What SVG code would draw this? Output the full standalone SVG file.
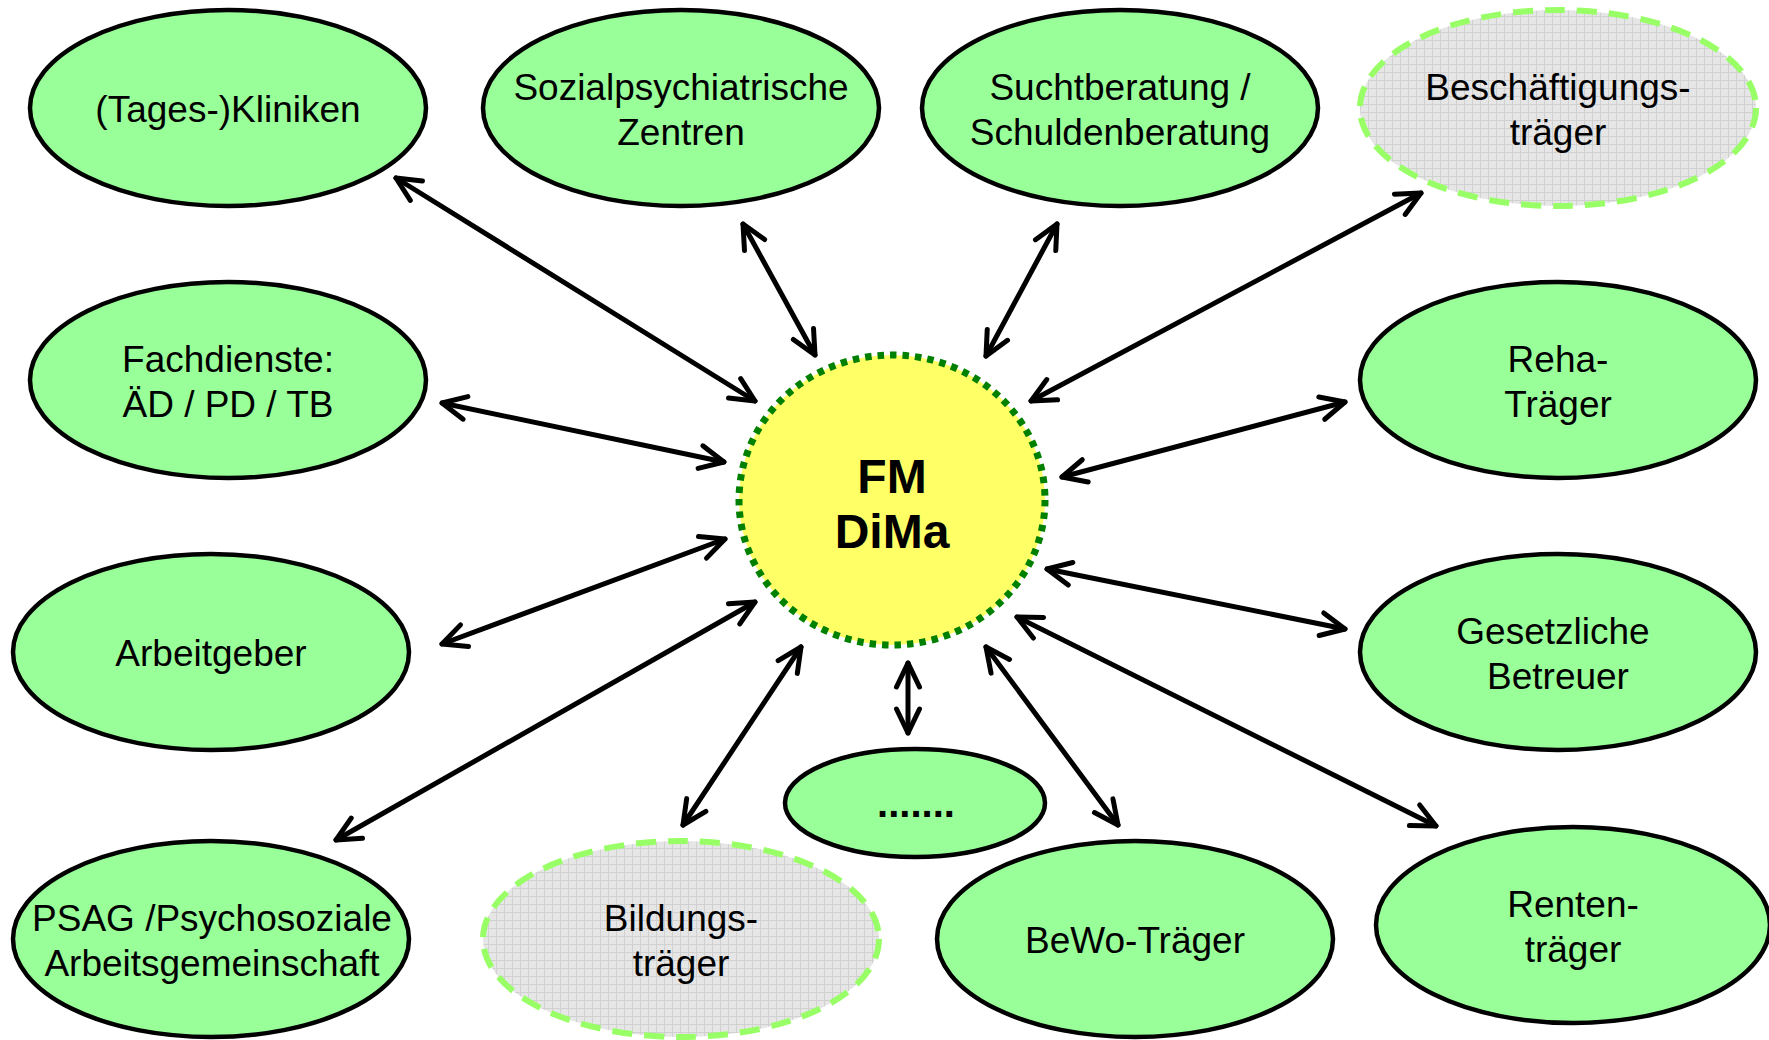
<svg xmlns="http://www.w3.org/2000/svg" width="1769" height="1040" viewBox="0 0 1769 1040">
<style>
.node{fill:#99FF99;stroke:#000;stroke-width:4.5}
.gray{fill:url(#grid);stroke:#99FF66;stroke-width:6;stroke-dasharray:20 12}
.center{fill:#FFFF66;stroke:#008000;stroke-width:7;stroke-dasharray:6.5 6}
.t{font-family:"Liberation Sans",Arial,sans-serif;font-size:37px;fill:#000;text-anchor:middle}
.b{font-family:"Liberation Sans",Arial,sans-serif;font-weight:bold;fill:#000;text-anchor:middle}
.c{fill:none;stroke:#000;stroke-width:5;stroke-linecap:round;marker-start:url(#ah);marker-end:url(#ah)}
</style>
<defs>
<pattern id="grid" width="8" height="8" patternUnits="userSpaceOnUse">
<rect width="8" height="8" fill="#E6E6E6"/>
<path d="M0,0.5 H8 M0.5,0 V8" stroke="#D0D0D0" stroke-width="1" fill="none"/>
</pattern>
<marker id="ah" markerUnits="userSpaceOnUse" viewBox="-30 -16 36 32" markerWidth="36" markerHeight="32" refX="0" refY="0" orient="auto-start-reverse" overflow="visible">
<path d="M-24,-11.5 L0,0 L-24,11.5" fill="none" stroke="#000" stroke-width="5" stroke-linecap="round" stroke-linejoin="round"/>
</marker>
</defs>
<rect width="1769" height="1040" fill="#fff"/>
<g id="connectors">
<line class="c" x1="396" y1="178" x2="755" y2="401"/>
<line class="c" x1="743" y1="224" x2="815" y2="355"/>
<line class="c" x1="1057" y1="224" x2="986" y2="356"/>
<line class="c" x1="1421" y1="193" x2="1031" y2="401"/>
<line class="c" x1="442" y1="403" x2="724" y2="462"/>
<line class="c" x1="1345" y1="402" x2="1062" y2="477"/>
<line class="c" x1="442" y1="644" x2="725" y2="539"/>
<line class="c" x1="1345" y1="629" x2="1047" y2="569"/>
<line class="c" x1="336" y1="840" x2="755" y2="602"/>
<line class="c" x1="683" y1="825" x2="801" y2="647"/>
<line class="c" x1="908" y1="663" x2="908" y2="733"/>
<line class="c" x1="1118" y1="825" x2="986" y2="647"/>
<line class="c" x1="1436" y1="826" x2="1017" y2="617"/>
</g>
<g id="fm-dima">
<ellipse class="center" cx="892" cy="500" rx="153" ry="145"/>
<text class="b" x="892" y="493" font-size="48">FM</text>
<text class="b" x="892" y="548" font-size="48">DiMa</text>
</g>
<g id="tageskliniken">
<ellipse class="node" cx="228" cy="108" rx="198" ry="98"/>
<text class="t" x="228" y="122">(Tages-)Kliniken</text>
</g>
<g id="sozialpsychiatrische-zentren">
<ellipse class="node" cx="681" cy="108" rx="198" ry="98"/>
<text class="t" x="681" y="100">Sozialpsychiatrische</text>
<text class="t" x="681" y="145">Zentren</text>
</g>
<g id="suchtberatung">
<ellipse class="node" cx="1120" cy="108" rx="198" ry="98"/>
<text class="t" x="1120" y="100">Suchtberatung /</text>
<text class="t" x="1120" y="145">Schuldenberatung</text>
</g>
<g id="beschaeftigungstraeger">
<ellipse class="gray" cx="1558" cy="108" rx="198" ry="98"/>
<text class="t" x="1558" y="100">Beschäftigungs-</text>
<text class="t" x="1558" y="145">träger</text>
</g>
<g id="fachdienste">
<ellipse class="node" cx="228" cy="380" rx="198" ry="98"/>
<text class="t" x="228" y="372">Fachdienste:</text>
<text class="t" x="228" y="417">ÄD / PD / TB</text>
</g>
<g id="reha-traeger">
<ellipse class="node" cx="1558" cy="380" rx="198" ry="98"/>
<text class="t" x="1558" y="372">Reha-</text>
<text class="t" x="1558" y="417">Träger</text>
</g>
<g id="arbeitgeber">
<ellipse class="node" cx="211" cy="652" rx="198" ry="98"/>
<text class="t" x="211" y="666">Arbeitgeber</text>
</g>
<g id="gesetzliche-betreuer">
<ellipse class="node" cx="1558" cy="652" rx="198" ry="98"/>
<text class="t" x="1553" y="644">Gesetzliche</text>
<text class="t" x="1558" y="689">Betreuer</text>
</g>
<g id="psag">
<ellipse class="node" cx="211" cy="939" rx="198" ry="98"/>
<text class="t" x="212" y="931">PSAG /Psychosoziale</text>
<text class="t" x="212" y="976">Arbeitsgemeinschaft</text>
</g>
<g id="bildungstraeger">
<ellipse class="gray" cx="681" cy="939" rx="198" ry="98"/>
<text class="t" x="681" y="931">Bildungs-</text>
<text class="t" x="681" y="976">träger</text>
</g>
<g id="weitere">
<ellipse class="node" cx="915" cy="803" rx="130" ry="54"/>
<text class="b" x="916" y="817" font-size="40">.......</text>
</g>
<g id="bewo-traeger">
<ellipse class="node" cx="1135" cy="939" rx="198" ry="98"/>
<text class="t" x="1135" y="953">BeWo-Träger</text>
</g>
<g id="rententraeger">
<ellipse class="node" cx="1573" cy="925" rx="197" ry="98"/>
<text class="t" x="1573" y="917">Renten-</text>
<text class="t" x="1573" y="962">träger</text>
</g>
</svg>
